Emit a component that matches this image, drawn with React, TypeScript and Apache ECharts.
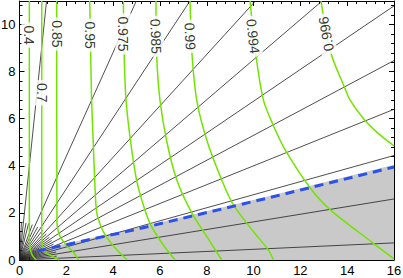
import React, { useEffect, useRef } from "react";
import * as echarts from "echarts";

// ---------- data ----------
const X_MIN = 0, X_MAX = 16, Y_MIN = 0, Y_MAX = 11;

// angles (degrees) of the black rays from the origin that run to the frame
const rayAngles = [2.6, 9.2, 15.5, 21.8, 27.9, 34, 40.4, 47.5, 56.5, 65.6, 84];
// short rays near the origin: angle (degrees) and length (data units)
const shortRayAngles = [5.9, 12.3, 18.6, 24.8, 31, 37.2, 44, 52, 61, 70, 76, 80, 87];
const shortRayLengths = [1.6, 1.6, 1.6, 1.6, 1.6, 1.6, 1.6, 1.6, 1.6, 1.6, 1.6, 1.6, 1.6];

// green contour curves [x, y]
const contourNames = ["0.4", "0.7", "0.85", "0.95", "0.975", "0.985", "0.99", "0.994", "0.996"];
const c040 = [[0.42, 11], [0.42, 1.0], [0.45, 0.5], [0.55, 0.2], [0.72, 0]];
const c070 = [[0.95, 11], [0.95, 0.9], [0.98, 0.6], [1.09, 0.35], [1.38, 0.17], [1.7, 0]];
const c085 = [[1.59, 11], [1.6, 1.6], [1.65, 1.25], [1.73, 1.0], [2.02, 0.6], [2.3, 0.33], [2.52, 0]];
const c095 = [[3.0, 11], [3.04, 8.8], [3.08, 6.8], [3.15, 5.0], [3.23, 3.0], [3.3, 2.0], [3.45, 1.5], [3.7, 1.0], [4.1, 0.5], [4.6, 0]];
const c0975 = [[4.44, 11], [4.47, 8.8], [4.55, 6.8], [4.75, 5.0], [5.0, 3.4], [5.3, 2.3], [5.6, 1.5], [6.1, 0.7], [6.65, 0]];
const c0985 = [[5.83, 11], [5.86, 8.7], [6.0, 6.8], [6.3, 5.0], [6.72, 3.4], [7.36, 2.0], [8.0, 1.0], [8.64, 0]];
const c099 = [[7.29, 11], [7.36, 8.9], [7.57, 6.8], [8.0, 5.1], [8.64, 3.4], [9.14, 2.34], [10.0, 1.2], [10.63, 0.43], [10.85, 0]];
const c0994 = [[9.85, 11], [10.1, 8.7], [10.42, 6.8], [10.85, 5.7], [11.35, 4.68], [12.43, 3.05], [13.28, 2.13], [15.12, 0.71], [16, 0.05]];
const c0996 = [[12.88, 11], [13.3, 8.8], [13.9, 7.3], [14.12, 6.8], [14.7, 6.0], [15.3, 5.4], [16, 4.85]];
const contours = [c040, c070, c085, c095, c0975, c0985, c099, c0994, c0996];

// contour label positions and rotation
const labelX = [0.42, 0.95, 1.59, 3.01, 4.44, 5.83, 7.29, 9.98, 13.1];
const labelY = [9.55, 7.1, 9.6, 9.55, 9.6, 9.5, 9.5, 9.5, 9.6];
const labelRot = [-90, -90, -90, -90, -90, -88, -87, -84, 100];

// blue dashed boundary and gray region
const blueLine = [[0.75, 0.38], [4.86, 1.27], [10.6, 2.63], [16, 3.95]];
const grayTop = [[0.5, 0], [0.55, 0.38], [4.86, 1.33], [10.6, 2.7], [16, 4.05]];

const xTickInterval = 2;
const yTickInterval = 2;

// ---------- helpers ----------
function rayEnd(deg: number, len?: number): number[] {
  const r = (deg * Math.PI) / 180;
  const c = Math.cos(r), s = Math.sin(r);
  let t = Math.min(c > 1e-9 ? X_MAX / c : Infinity, s > 1e-9 ? Y_MAX / s : Infinity);
  if (len !== undefined) t = Math.min(t, len);
  return [t * c, t * s];
}

const FONT = "Liberation Sans, Arial, Helvetica, sans-serif";

export default function App() {
  const ref = useRef<HTMLDivElement>(null);
  useEffect(() => {
    if (!ref.current) return;
    const chart = echarts.init(ref.current, null, { renderer: "svg" });

    const axisCommon = {
      type: "value" as const,
      axisLine: { show: true, onZero: false, lineStyle: { color: "#000", width: 1 } },
      axisTick: { show: true, inside: true, length: 5, lineStyle: { color: "#000", width: 1 } },
      minorTick: { show: true, splitNumber: 5, length: 3, lineStyle: { color: "#000", width: 1 } },
      splitLine: { show: false },
      minorSplitLine: { show: false },
    };

    const series: any[] = [];
    series.push({
      type: "line",
      data: grayTop,
      symbol: "none",
      lineStyle: { width: 0 },
      areaStyle: { color: "#c9c9c9", opacity: 1 },
      z: 1,
      silent: true,
    });
    rayAngles.forEach((a) => {
      series.push({
        type: "line",
        data: [[0, 0], rayEnd(a)],
        symbol: "none",
        lineStyle: { color: "#222", width: 0.8 },
        z: 2,
        silent: true,
      });
    });
    shortRayAngles.forEach((a, i) => {
      series.push({
        type: "line",
        data: [[0, 0], rayEnd(a, shortRayLengths[i])],
        symbol: "none",
        lineStyle: { color: "#222", width: 0.8 },
        z: 2,
        silent: true,
      });
    });
    contours.forEach((c, i) => {
      series.push({
        name: contourNames[i],
        type: "line",
        data: c,
        symbol: "none",
        smooth: 0.3,
        lineStyle: { color: "#72e400", width: 1.5 },
        z: 3,
        silent: true,
      });
    });
    series.push({
      type: "line",
      data: blueLine,
      symbol: "none",
      lineStyle: { color: "#2a50f0", width: 3, type: [9, 6] },
      z: 4,
      silent: true,
    });
    series.push({
      type: "scatter",
      symbolSize: 1,
      itemStyle: { color: "rgba(0,0,0,0)" },
      z: 10,
      silent: true,
      data: contourNames.map((n, i) => ({
        value: [labelX[i], labelY[i], n],
        label: {
          show: true,
          position: "inside",
          rotate: labelRot[i],
          formatter: n,
          color: "#000",
          fontSize: 14,
          fontFamily: FONT,
          backgroundColor: "#fff",
          padding: [1, 3, 1, 3],
        },
      })),
    });

    chart.setOption({
      animation: false,
      backgroundColor: "#fff",
      grid: { left: 19.5, right: 9, top: 1, bottom: 18, containLabel: false, outerBoundsMode: "none" } as any,
      xAxis: [
        {
          ...axisCommon,
          position: "bottom",
          min: X_MIN,
          max: X_MAX,
          interval: xTickInterval,
          axisLabel: { show: true, color: "#000", fontSize: 13, fontFamily: FONT, margin: 4, lineHeight: 13 },
        },
        {
          ...axisCommon,
          position: "top",
          min: X_MIN,
          max: X_MAX,
          interval: xTickInterval,
          axisLabel: { show: false },
        },
      ],
      yAxis: [
        {
          ...axisCommon,
          position: "left",
          min: Y_MIN,
          max: Y_MAX,
          interval: yTickInterval,
          axisLabel: { show: true, color: "#000", fontSize: 13, fontFamily: FONT, margin: 4, showMaxLabel: false },
        },
        {
          ...axisCommon,
          position: "right",
          min: Y_MIN,
          max: Y_MAX,
          interval: yTickInterval,
          axisLabel: { show: false },
        },
      ],
      series,
    });
    return () => chart.dispose();
  }, []);
  return (
    <div
      ref={ref}
      style={{ position: "absolute", left: 0, top: 0, width: 403, height: 278 }}
    />
  );
}
